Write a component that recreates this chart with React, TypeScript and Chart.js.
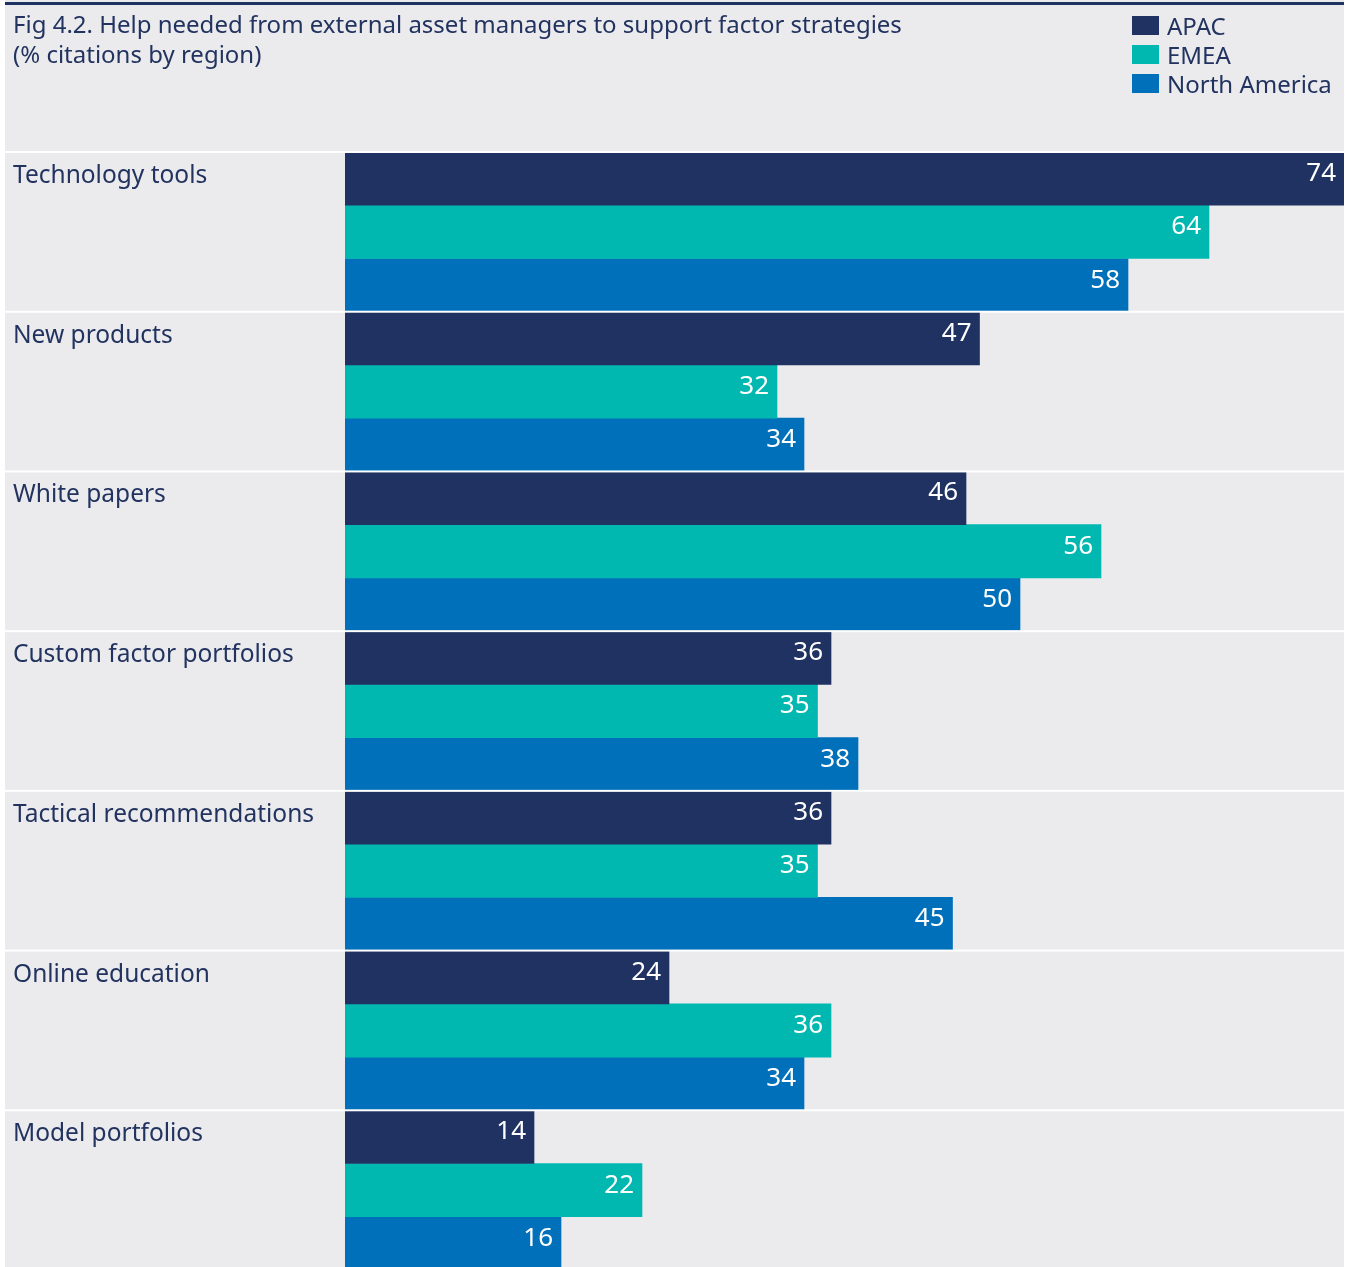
import React, { useEffect, useRef } from "react";
import { Chart, registerables } from "chart.js";

Chart.register(...registerables);

const TITLE_LINES = [
  "Fig 4.2. Help needed from external asset managers to support factor strategies",
  "(% citations by region)",
];
const CATEGORIES = [
  "Technology tools",
  "New products",
  "White papers",
  "Custom factor portfolios",
  "Tactical recommendations",
  "Online education",
  "Model portfolios",
];
const SERIES_NAMES = ["APAC", "EMEA", "North America"];
const SERIES_COLORS = ["#203262", "#00B8B0", "#0070BA"];
const APAC = [74, 47, 46, 36, 36, 24, 14];
const EMEA = [64, 32, 56, 35, 35, 36, 22];
const NORTH_AMERICA = [58, 34, 50, 38, 45, 34, 16];
const X_MAX = 74;

const FONT = '"Noto Sans", "DejaVu Sans", sans-serif';
const TEXT_COLOR = "#22335f";
const BG = "#EBEBEE";

export default function App() {
  const ref = useRef<HTMLCanvasElement | null>(null);

  useEffect(() => {
    document.body.style.margin = "0";
    const canvas = ref.current!;
    const W = 1349;
    const H = 1272;
    const panelLeft = 5;
    const panelRight = 1344;

    const decor = {
      id: "decor",
      beforeDraw(chart: any) {
        const ctx = chart.ctx;
        ctx.save();
        ctx.fillStyle = "#ffffff";
        ctx.fillRect(0, 0, W, H);
        ctx.fillStyle = BG;
        ctx.fillRect(panelLeft, 0, panelRight - panelLeft, H);
        ctx.fillStyle = "#203262";
        ctx.fillRect(panelLeft, 2, panelRight - panelLeft, 3);
        // title
        ctx.fillStyle = TEXT_COLOR;
        ctx.font = `24px ${FONT}`;
        ctx.textBaseline = "alphabetic";
        ctx.textAlign = "left";
        TITLE_LINES.forEach((t, i) => ctx.fillText(t, 13, 33 + i * 30));
        // legend
        SERIES_NAMES.forEach((name, i) => {
          const y = 16 + i * 29;
          ctx.fillStyle = SERIES_COLORS[i];
          ctx.fillRect(1132, y, 27, 19);
          ctx.fillStyle = TEXT_COLOR;
          ctx.fillText(name, 1167, y + 19);
        });
        ctx.restore();
      },
      afterDatasetsDraw(chart: any) {
        const ctx = chart.ctx;
        const yScale = chart.scales.y;
        const area = chart.chartArea;
        const n = CATEGORIES.length;
        const gh = (area.bottom - area.top) / n;
        ctx.save();
        // value labels
        ctx.fillStyle = "#ffffff";
        ctx.font = `26px ${FONT}`;
        ctx.textAlign = "right";
        ctx.textBaseline = "middle";
        chart.data.datasets.forEach((ds: any, di: number) => {
          const meta = chart.getDatasetMeta(di);
          meta.data.forEach((el: any, i: number) => {
            ctx.fillText(String(ds.data[i]), el.x - 8, el.y - 5);
          });
        });
        // separators
        ctx.fillStyle = "#ffffff";
        for (let k = 0; k < n; k++) {
          const y = yScale.getPixelForValue(k) - gh / 2;
          ctx.fillRect(panelLeft, y - 1, panelRight - panelLeft, 2);
        }
        // category labels
        ctx.fillStyle = TEXT_COLOR;
        ctx.font = `24.5px ${FONT}`;
        ctx.textAlign = "left";
        ctx.textBaseline = "alphabetic";
        CATEGORIES.forEach((c, i) => {
          const top = yScale.getPixelForValue(i) - gh / 2;
          ctx.fillText(c, 13, top + 31);
        });
        ctx.restore();
      },
    };

    const chart = new Chart(canvas, {
      type: "bar",
      data: {
        labels: CATEGORIES,
        datasets: [APAC, EMEA, NORTH_AMERICA].map((d, i) => ({
          label: SERIES_NAMES[i],
          data: d,
          backgroundColor: SERIES_COLORS[i],
          borderWidth: 0,
          barPercentage: 1,
          categoryPercentage: 1,
        })),
      },
      options: {
        indexAxis: "y",
        responsive: false,
        animation: false,
        layout: { padding: { top: 152, left: 345, right: 5, bottom: 2 } },
        plugins: {
          legend: { display: false },
          title: { display: false },
          tooltip: { enabled: false },
        },
        scales: {
          x: { display: false, min: 0, max: X_MAX },
          y: { display: false },
        },
      },
      plugins: [decor],
    });
    return () => chart.destroy();
  }, []);

  return <canvas ref={ref} width={1349} height={1272} style={{ display: "block" }} />;
}
